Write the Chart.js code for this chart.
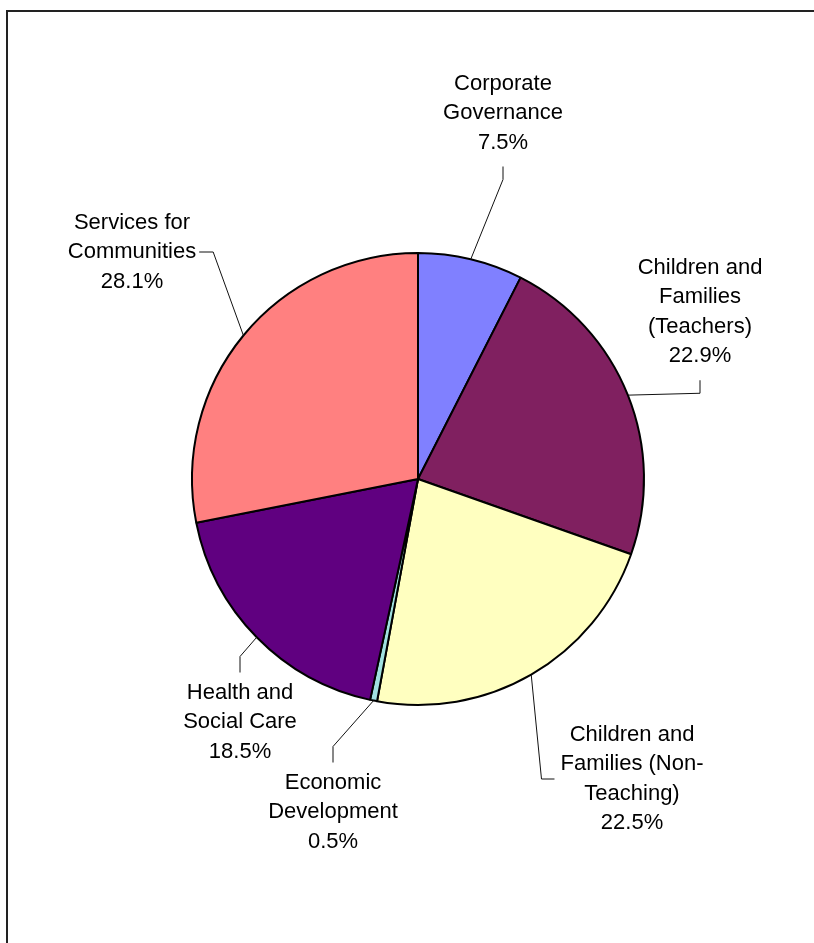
<!DOCTYPE html>
<html>
<head>
<meta charset="utf-8">
<script src="https://cdn.jsdelivr.net/npm/chart.js@4/dist/chart.umd.min.js"></script>
<style>
  html, body { margin: 0; padding: 0; background: #fff; }
  #wrap { position: relative; width: 814px; height: 943px; }
</style>
</head>
<body>
<div id="wrap"><canvas id="chart_1"></canvas></div>
<script>
const categories = [
  "Corporate Governance",
  "Children and Families (Teachers)",
  "Children and Families (Non-Teaching)",
  "Economic Development",
  "Health and Social Care",
  "Services for Communities",
];
// how each category name wraps in its label
const labelLines = [
  ["Corporate", "Governance"],
  ["Children and", "Families", "(Teachers)"],
  ["Children and", "Families (Non-", "Teaching)"],
  ["Economic", "Development"],
  ["Health and", "Social Care"],
  ["Services for", "Communities"],
];
const shares = [7.5, 22.9, 22.5, 0.5, 18.5, 28.1];
const sliceColors = ["#8080ff", "#802060", "#ffffc0", "#a0e0e0", "#600080", "#ff8080"];

// label box centre relative to the pie centre, and the side the leader joins
const labelPlaces = [
  { dx: 85, dy: -366, side: "bottom" },
  { dx: 282, dy: -167, side: "bottom" },
  { dx: 214, dy: 300, side: "left" },
  { dx: -85, dy: 333, side: "top" },
  { dx: -178, dy: 243, side: "top" },
  { dx: -286, dy: -227, side: "right" },
];

const FONT = "22px 'Liberation Sans', Arial, sans-serif";
const LINE_H = 29.5;

const frame = {
  id: "frame",
  beforeDraw(chart) {
    const c = chart.ctx;
    c.save();
    c.strokeStyle = "#222";
    c.lineWidth = 2;
    c.strokeRect(7, 11, 1000, 1000);
    c.restore();
  },
};

const pieLabels = {
  id: "pieLabels",
  afterDatasetsDraw(chart) {
    const c = chart.ctx;
    const arcs = chart.getDatasetMeta(0).data;
    c.save();
    c.font = FONT;
    c.fillStyle = "#000";
    c.textAlign = "center";
    c.textBaseline = "middle";
    arcs.forEach((arc, i) => {
      const place = labelPlaces[i];
      const lines = labelLines[i].concat([shares[i].toFixed(1) + "%"]);
      const cx = arc.x + place.dx;
      const cy = arc.y + place.dy;
      const n = lines.length;
      let maxW = 0;
      lines.forEach((t, k) => {
        const ly = cy + (k - (n - 1) / 2) * LINE_H;
        c.fillText(t, cx, ly);
        maxW = Math.max(maxW, c.measureText(t).width);
      });
      // leader line from the slice edge
      const mid = (arc.startAngle + arc.endAngle) / 2;
      const ex = arc.x + Math.cos(mid) * arc.outerRadius;
      const ey = arc.y + Math.sin(mid) * arc.outerRadius;
      const firstY = cy - (n - 1) / 2 * LINE_H;
      const lastY = cy + (n - 1) / 2 * LINE_H;
      let ax, ay, bx, by;
      if (place.side === "bottom") { ax = cx; ay = lastY + 24; bx = cx; by = ay + 13; }
      else if (place.side === "top") { ax = cx; ay = firstY - 20; bx = cx; by = ay - 16; }
      else if (place.side === "left") { ax = cx - maxW / 2 - 6; ay = cy; bx = ax - 13; by = cy; }
      else { ax = cx + maxW / 2 + 3; ay = cy; bx = ax + 14; by = cy; }
      c.strokeStyle = "#111";
      c.lineWidth = 1;
      c.beginPath();
      c.moveTo(ex, ey);
      c.lineTo(bx, by);
      c.lineTo(ax, ay);
      c.stroke();
    });
    c.restore();
  },
};

const ct = document.getElementById("chart_1");

const config = {
  type: "pie",
  data: {
    labels: categories,
    datasets: [
      {
        data: shares,
        backgroundColor: sliceColors,
        borderColor: "#000",
        borderWidth: 2,
      },
    ],
  },
  options: {
    responsive: true,
    maintainAspectRatio: false,
    animation: false,
    layout: { padding: { left: 191, right: 169, top: 252, bottom: 237 } },
    plugins: {
      legend: { display: false },
      tooltip: { enabled: false },
    },
  },
  plugins: [frame, pieLabels],
};

new Chart(ct, config);
</script>
</body>
</html>
